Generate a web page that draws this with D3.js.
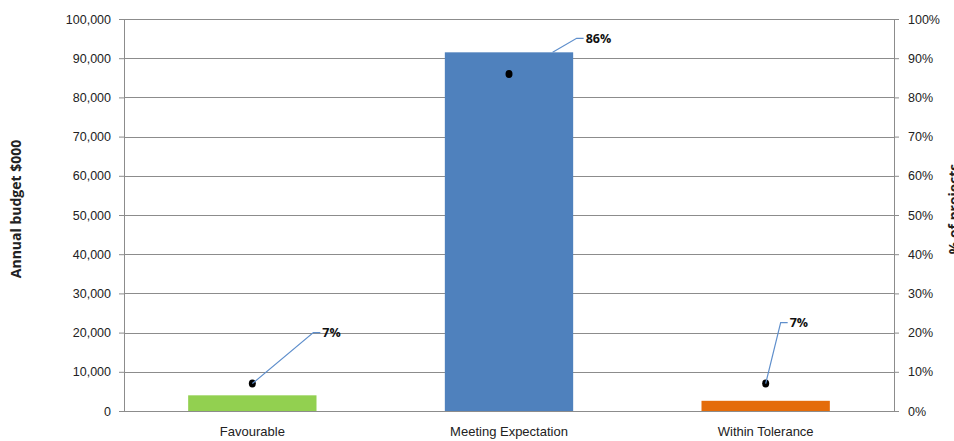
<!DOCTYPE html>
<html>
<head>
<meta charset="utf-8">
<script src="https://cdn.jsdelivr.net/npm/d3@7"></script>
<style>
  body { margin: 0; background: #fff; }
  svg { display: block; font-family: "Open Sans", sans-serif; }
  .axis path, .axis line { stroke: #8c8c8c; }
  .axis text { fill: #222; font-size: 12.5px; font-family: "Liberation Sans", sans-serif; }
  .axis.x text { font-size: 13px; }
  .grid line { stroke: #8c8c8c; }
  .label { font-size: 12.5px; font-weight: bold; fill: #111; }
  .title { font-size: 14px; font-weight: bold; fill: #222; }
</style>
</head>
<body>
<div id="chart"></div>
<script>
const categories = ["Favourable", "Meeting Expectation", "Within Tolerance"];
const budget = [4000, 91500, 2600];
const pctProjects = [0.07, 0.86, 0.07];
const barColors = ["#92d050", "#4f81bd", "#e46c0a"];
const leftTicks = [0, 10000, 20000, 30000, 40000, 50000, 60000, 70000, 80000, 90000, 100000];
const rightTicks = [0, 0.1, 0.2, 0.3, 0.4, 0.5, 0.6, 0.7, 0.8, 0.9, 1];
// label callout offsets (dx, dy from anchor) as placed in the original
const callouts = [[61, -51], [24, -14], [15, -61]];

const W = 954, H = 441;
const margin = {top: 19, right: 60, bottom: 30, left: 124};
const width = W - margin.left - margin.right;
const height = H - margin.top - margin.bottom;

const svg = d3.select("#chart").append("svg").attr("width", W).attr("height", H);
const g = svg.append("g").attr("transform", `translate(${margin.left},${margin.top})`);

const x = d3.scaleBand().domain(categories).range([0, width]).paddingInner(0.5).paddingOuter(0.25);
const y = d3.scaleLinear().domain([0, 100000]).range([height, 0]);
const y2 = d3.scaleLinear().domain([0, 1]).range([height, 0]);

g.append("g").attr("class", "grid")
  .selectAll("line").data(leftTicks.slice(1)).join("line")
  .attr("x1", 0).attr("x2", width)
  .attr("y1", d => Math.round(y(d)) + 0.5).attr("y2", d => Math.round(y(d)) + 0.5);

g.append("g").attr("class", "axis")
  .call(d3.axisLeft(y).tickValues(leftTicks).tickFormat(d3.format(",")).tickSizeInner(5).tickSizeOuter(0).tickPadding(8))
  .call(a => a.select(".domain").attr("d", `M0.5,0V${height}`));

g.append("g").attr("class", "axis").attr("transform", `translate(${width},0)`)
  .call(d3.axisRight(y2).tickValues(rightTicks).tickFormat(d3.format(".0%")).tickSizeInner(5).tickSizeOuter(0).tickPadding(9))
  .call(a => a.select(".domain").attr("d", `M0.5,0V${height}`));

g.append("g").attr("class", "axis x").attr("transform", `translate(0,${height})`)
  .call(d3.axisBottom(x).tickSize(0).tickPadding(16))
  .call(a => a.select(".domain").remove());

g.append("line").attr("stroke", "#8c8c8c")
  .attr("x1", 0).attr("x2", width).attr("y1", height + 0.5).attr("y2", height + 0.5);

g.selectAll(".bar").data(categories).join("rect")
  .attr("class", "bar")
  .attr("x", d => x(d))
  .attr("width", x.bandwidth())
  .attr("y", (d, i) => y(budget[i]))
  .attr("height", (d, i) => height - y(budget[i]))
  .attr("fill", (d, i) => barColors[i]);

g.selectAll(".dot").data(categories).join("ellipse")
  .attr("cx", d => x(d) + x.bandwidth() / 2)
  .attr("cy", (d, i) => y2(pctProjects[i]))
  .attr("rx", 3.5).attr("ry", 4)
  .attr("fill", "#000");

// leader lines + labels
categories.forEach((c, i) => {
  const cx = x(c) + x.bandwidth() / 2;
  let ax = cx, ay = y2(pctProjects[i]);
  if (i === 1) { ax = x(c) + x.bandwidth() * 0.84; ay = y(budget[i]); }
  const [dx, dy] = callouts[i];
  const ex = ax + dx, ey = ay + dy;
  g.append("path")
    .attr("d", `M${ax},${ay}L${ex},${ey}H${ex + 7}`)
    .attr("fill", "none").attr("stroke", "#5f8fcc").attr("stroke-width", 1.2);
  g.append("text").attr("class", "label")
    .attr("x", ex + 9).attr("y", ey).attr("dy", "0.35em")
    .text(d3.format(".0%")(pctProjects[i]));
});

svg.append("text").attr("class", "title")
  .attr("transform", `translate(21,${margin.top + height / 2 - 6}) rotate(-90)`)
  .attr("text-anchor", "middle")
  .text("Annual budget $000");

svg.append("text").attr("class", "title")
  .attr("transform", `translate(959,${margin.top + height / 2 - 6}) rotate(-90)`)
  .attr("text-anchor", "middle")
  .text("% of projects");
</script>
</body>
</html>
